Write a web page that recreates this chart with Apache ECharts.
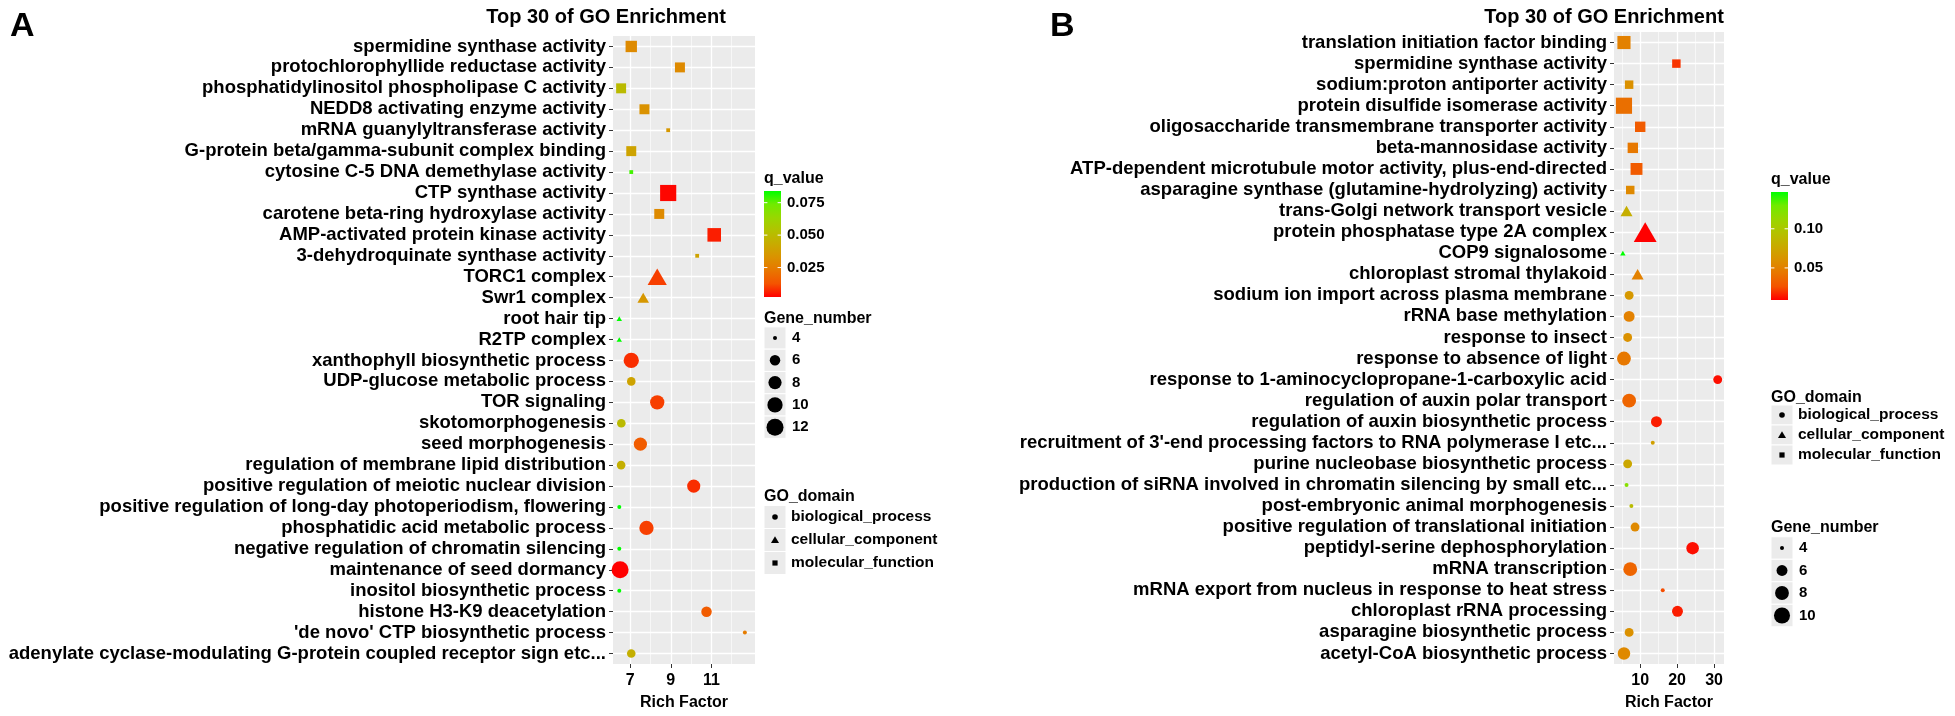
<!DOCTYPE html>
<html><head><meta charset="utf-8">
<script src="https://cdn.jsdelivr.net/npm/echarts@6/dist/echarts.min.js"></script>
<style>html,body{margin:0;padding:0;background:#fff}#c{width:1955px;height:716px}</style>
</head><body><div id="c"></div><script>
// ---------------- DATA ----------------
const categoriesA = ["spermidine synthase activity","protochlorophyllide reductase activity","phosphatidylinositol phospholipase C activity","NEDD8 activating enzyme activity","mRNA guanylyltransferase activity","G-protein beta/gamma-subunit complex binding","cytosine C-5 DNA demethylase activity","CTP synthase activity","carotene beta-ring hydroxylase activity","AMP-activated protein kinase activity","3-dehydroquinate synthase activity","TORC1 complex","Swr1 complex","root hair tip","R2TP complex","xanthophyll biosynthetic process","UDP-glucose metabolic process","TOR signaling","skotomorphogenesis","seed morphogenesis","regulation of membrane lipid distribution","positive regulation of meiotic nuclear division","positive regulation of long-day photoperiodism, flowering","phosphatidic acid metabolic process","negative regulation of chromatin silencing","maintenance of seed dormancy","inositol biosynthetic process","histone H3-K9 deacetylation","'de novo' CTP biosynthetic process","adenylate cyclase-modulating G-protein coupled receptor sign etc..."];
const richA = [7.05,9.45,6.55,7.7,8.87,7.05,7.05,8.87,8.43,11.14,10.3,8.33,7.64,6.46,6.46,7.05,7.05,8.33,6.56,7.5,6.55,10.13,6.46,7.8,6.46,6.5,6.46,10.76,12.65,7.05];
const qA = [0.03,0.03,0.05,0.033,0.035,0.04,0.078,0.003,0.03,0.006,0.04,0.01,0.035,0.084,0.084,0.008,0.04,0.01,0.05,0.015,0.045,0.008,0.084,0.01,0.084,0.0023,0.084,0.015,0.025,0.045];
const geneA = [7,6,6,6,4,6,4,12,6,9,4,9,5,4,4,10,5,9,5,8,5,8,4,9,4,12,4,6,4,5];
const domainA = ["molecular_function","molecular_function","molecular_function","molecular_function","molecular_function","molecular_function","molecular_function","molecular_function","molecular_function","molecular_function","molecular_function","cellular_component","cellular_component","cellular_component","cellular_component","biological_process","biological_process","biological_process","biological_process","biological_process","biological_process","biological_process","biological_process","biological_process","biological_process","biological_process","biological_process","biological_process","biological_process","biological_process"];

const categoriesB = ["translation initiation factor binding","spermidine synthase activity","sodium:proton antiporter activity","protein disulfide isomerase activity","oligosaccharide transmembrane transporter activity","beta-mannosidase activity","ATP-dependent microtubule motor activity, plus-end-directed","asparagine synthase (glutamine-hydrolyzing) activity","trans-Golgi network transport vesicle","protein phosphatase type 2A complex","COP9 signalosome","chloroplast stromal thylakoid","sodium ion import across plasma membrane","rRNA base methylation","response to insect","response to absence of light","response to 1-aminocyclopropane-1-carboxylic acid","regulation of auxin polar transport","regulation of auxin biosynthetic process","recruitment of 3'-end processing factors to RNA polymerase I etc...","purine nucleobase biosynthetic process","production of siRNA involved in chromatin silencing by small etc...","post-embryonic animal morphogenesis","positive regulation of translational initiation","peptidyl-serine dephosphorylation","mRNA transcription","mRNA export from nucleus in response to heat stress","chloroplast rRNA processing","asparagine biosynthetic process","acetyl-CoA biosynthetic process"];
const richB = [5.6,19.8,7.0,5.6,10.0,8.0,9.0,7.3,6.3,11.35,5.3,9.3,7.0,7.0,6.6,5.6,31.0,7.0,14.4,13.4,6.6,6.3,7.6,8.6,24.2,7.3,16.1,20.1,7.0,5.6];
const qB = [0.05,0.02,0.06,0.04,0.03,0.045,0.03,0.055,0.08,0.009,0.147,0.05,0.065,0.05,0.06,0.045,0.012,0.035,0.015,0.07,0.075,0.12,0.09,0.055,0.012,0.035,0.025,0.015,0.06,0.055];
const geneB = [8,5,5,11,6,6,7,5,5,11,4,5,5,6,5,8,5,8,6,4,5,4,4,5,7,8,4,6,5,7];
const domainB = ["molecular_function","molecular_function","molecular_function","molecular_function","molecular_function","molecular_function","molecular_function","molecular_function","cellular_component","cellular_component","cellular_component","cellular_component","biological_process","biological_process","biological_process","biological_process","biological_process","biological_process","biological_process","biological_process","biological_process","biological_process","biological_process","biological_process","biological_process","biological_process","biological_process","biological_process","biological_process","biological_process"];

const xTicksA = [7, 9, 11];
const xMinorA = [8, 10, 12];
const xTicksB = [10, 20, 30];
const xMinorB = [5, 15, 25];
const qTicksA = [0.025, 0.050, 0.075];
const qTickLabelsA = ["0.025", "0.050", "0.075"];
const qTicksB = [0.05, 0.10];
const qTickLabelsB = ["0.05", "0.10"];
const geneBreaksA = [4, 6, 8, 10, 12];
const geneBreaksB = [4, 6, 8, 10];
const domains = ["biological_process", "cellular_component", "molecular_function"];
const panelTitle = "Top 30 of GO Enrichment";
const xTitle = "Rich Factor";

// ---------------- STYLE / LAYOUT ----------------
const FONT = '"Liberation Sans", Arial, Helvetica, sans-serif';
const qColors = ['#FF0000','#F45300','#E87600','#DA9200','#C8AB00','#B3C200','#98D700','#70EB00','#00FF00'];
const shapeOf = {biological_process: 'circle', cellular_component: 'triangle', molecular_function: 'rect'};
const P = {
  A: {left: 613, top: 36, width: 142, height: 638, xmin: 6.15, xmax: 13.15},
  B: {left: 1614, top: 32, width: 110, height: 636, xmin: 2.9, xmax: 32.7}
};
const D_MIN = 4, D_MAX = 17;
function diam(g, gmin, gmax) { return D_MIN + (D_MAX - D_MIN) * Math.sqrt((g - gmin) / (gmax - gmin)); }
function symSize(shape, g, gmin, gmax) {
  const d = diam(g, gmin, gmax);
  if (shape === 'rect') return d * 0.95;
  if (shape === 'triangle') return [d * 1.347, d * 1.166];
  return d;
}
const gRangeA = [Math.min(...geneA), Math.max(...geneA)];
const gRangeB = [Math.min(...geneB), Math.max(...geneB)];
const qRangeA = [Math.min(...qA), Math.max(...qA)];
const qRangeB = [Math.min(...qB), Math.max(...qB)];

function scatterSeries(idx, cats, rich, q, gene, dom, gr) {
  return domains.map(d => ({
    type: 'scatter', name: d, xAxisIndex: idx, yAxisIndex: idx, z: 3,
    symbol: shapeOf[d],
    symbolSize: v => symSize(shapeOf[d], v[3], gr[0], gr[1]),
    data: cats.map((c, i) => dom[i] === d ? [rich[i], i, q[i], gene[i]] : null).filter(Boolean),
    itemStyle: {opacity: 1}, emphasis: {disabled: true}, silent: true
  }));
}
function gridLineSeries(idx, cats, majors, minors) {
  const white = w => ({color: '#FFFFFF', width: w, type: 'solid', opacity: 1});
  return {
    type: 'scatter', data: [], xAxisIndex: idx, yAxisIndex: idx, z: 1, silent: true,
    markLine: {
      silent: true, symbol: ['none', 'none'], label: {show: false}, z: 1, animation: false, precision: 4,
      emphasis: {disabled: true},
      data: [
        ...minors.map(v => ({xAxis: v, lineStyle: white(0.6)})),
        ...majors.map(v => ({xAxis: v, lineStyle: white(1.3)})),
        ...cats.map((c, i) => ({yAxis: i, lineStyle: white(1.3)}))
      ]
    }
  };
}
function xAxisOpt(idx, p, ticks) {
  return {
    gridIndex: idx, type: 'value', min: p.xmin, max: p.xmax,
    axisLine: {show: false}, splitLine: {show: false},
    axisTick: {show: true, length: 4, lineStyle: {color: '#333', width: 1}, customValues: ticks},
    axisLabel: {customValues: ticks, fontSize: 16, fontWeight: 'bold', color: '#000', margin: 9, fontFamily: FONT},
    name: xTitle, nameLocation: 'middle', nameGap: 31,
    nameTextStyle: {fontSize: 16, fontWeight: 'bold', color: '#000', fontFamily: FONT, verticalAlign: 'top'}
  };
}
function yAxisOpt(idx, cats) {
  return {
    gridIndex: idx, type: 'category', data: cats, inverse: true, boundaryGap: true,
    axisLine: {show: false}, splitLine: {show: false},
    axisTick: {show: true, length: 4, alignWithLabel: true, lineStyle: {color: '#333', width: 1}},
    axisLabel: {interval: 0, fontSize: 18.5, fontWeight: 'bold', color: '#000', margin: 7, fontFamily: FONT}
  };
}

// ---------------- LEGENDS (graphic) ----------------
function txt(x, y, s, size, weight, align) {
  return {type: 'text', x: x, y: y, silent: true,
    style: {text: s, font: (weight || 'bold') + ' ' + size + 'px ' + FONT, fill: '#000',
      textAlign: align || 'left', textVerticalAlign: 'middle'}};
}
function colorbar(x, top, h, w, qr, ticks, labels) {
  const els = [];
  els.push(txt(x, top - 12, 'q_value', 16));
  const stops = qColors.map((c, i) => ({offset: i / (qColors.length - 1), color: c}));
  els.push({type: 'rect', silent: true, shape: {x: x, y: top, width: w, height: h},
    style: {fill: new echarts.graphic.LinearGradient(0, 1, 0, 0, stops)}});
  ticks.forEach((t, i) => {
    const y = top + h - (t - qr[0]) / (qr[1] - qr[0]) * h;
    els.push({type: 'line', silent: true, shape: {x1: x, y1: y, x2: x + w * 0.2, y2: y}, style: {stroke: '#fff', lineWidth: 1}});
    els.push({type: 'line', silent: true, shape: {x1: x + w * 0.8, y1: y, x2: x + w, y2: y}, style: {stroke: '#fff', lineWidth: 1}});
    els.push(txt(x + w + 6, y, labels[i], 15));
  });
  return els;
}
function sizeLegend(x, titleY, y0, step, breaks, gr) {
  const els = [txt(x, titleY, 'Gene_number', 16)];
  const key = 22;
  breaks.forEach((b, i) => {
    const cy = y0 + i * step;
    els.push({type: 'rect', silent: true, shape: {x: x, y: cy - step / 2, width: key, height: step}, style: {fill: '#EBEBEB', stroke: '#fff', lineWidth: 1}});
    els.push({type: 'circle', silent: true, shape: {cx: x + key / 2, cy: cy, r: diam(b, gr[0], gr[1]) / 2}, style: {fill: '#000'}});
    els.push(txt(x + key + 6, cy, String(b), 15));
  });
  return els;
}
function domainLegend(x, titleY, y0, step) {
  const els = [txt(x, titleY, 'GO_domain', 16)];
  const key = 22;
  domains.forEach((d, i) => {
    const cy = y0 + i * step, cx = x + key / 2;
    els.push({type: 'rect', silent: true, shape: {x: x, y: cy - step / 2, width: key, height: step}, style: {fill: '#EBEBEB', stroke: '#fff', lineWidth: 1}});
    const s = shapeOf[d];
    if (s === 'circle') els.push({type: 'circle', silent: true, shape: {cx: cx, cy: cy, r: 2.8}, style: {fill: '#000'}});
    else if (s === 'triangle') els.push({type: 'polygon', silent: true, shape: {points: [[cx, cy - 3.7], [cx - 4, cy + 2.9], [cx + 4, cy + 2.9]]}, style: {fill: '#000'}});
    else els.push({type: 'rect', silent: true, shape: {x: cx - 2.6, y: cy - 2.6, width: 5.2, height: 5.2}, style: {fill: '#000'}});
    els.push(txt(x + key + 5, cy, d, 15.5));
  });
  return els;
}

const graphics = [
  txt(10, 27, 'A', 34), txt(1050, 27, 'B', 34),
  txt(606, 17, panelTitle, 20, 'bold', 'center'),
  txt(1604, 17, panelTitle, 20, 'bold', 'center'),
  ...colorbar(764, 191, 106, 17, qRangeA, qTicksA, qTickLabelsA),
  ...sizeLegend(764, 319, 338, 22.3, geneBreaksA, gRangeA),
  ...domainLegend(764, 497, 517, 23),
  ...colorbar(1771, 192, 108, 17, qRangeB, qTicksB, qTickLabelsB),
  ...domainLegend(1771, 398, 415, 20),
  ...sizeLegend(1771, 528, 548, 22.5, geneBreaksB, gRangeB)
];

const chart = echarts.init(document.getElementById('c'), null, {renderer: 'canvas'});
chart.setOption({
  animation: false,
  backgroundColor: '#FFFFFF',
  textStyle: {fontFamily: FONT},
  grid: [
    {left: P.A.left, top: P.A.top, width: P.A.width, height: P.A.height, show: true, backgroundColor: '#EBEBEB', borderWidth: 0},
    {left: P.B.left, top: P.B.top, width: P.B.width, height: P.B.height, show: true, backgroundColor: '#EBEBEB', borderWidth: 0}
  ],
  xAxis: [xAxisOpt(0, P.A, xTicksA), xAxisOpt(1, P.B, xTicksB)],
  yAxis: [yAxisOpt(0, categoriesA), yAxisOpt(1, categoriesB)],
  visualMap: [
    {type: 'continuous', show: false, dimension: 2, seriesIndex: [0, 1, 2], min: qRangeA[0], max: qRangeA[1], inRange: {color: qColors}},
    {type: 'continuous', show: false, dimension: 2, seriesIndex: [3, 4, 5], min: qRangeB[0], max: qRangeB[1], inRange: {color: qColors}}
  ],
  series: [
    ...scatterSeries(0, categoriesA, richA, qA, geneA, domainA, gRangeA),
    ...scatterSeries(1, categoriesB, richB, qB, geneB, domainB, gRangeB),
    gridLineSeries(0, categoriesA, xTicksA, xMinorA),
    gridLineSeries(1, categoriesB, xTicksB, xMinorB)
  ],
  graphic: {elements: graphics}
});
</script></body></html>
